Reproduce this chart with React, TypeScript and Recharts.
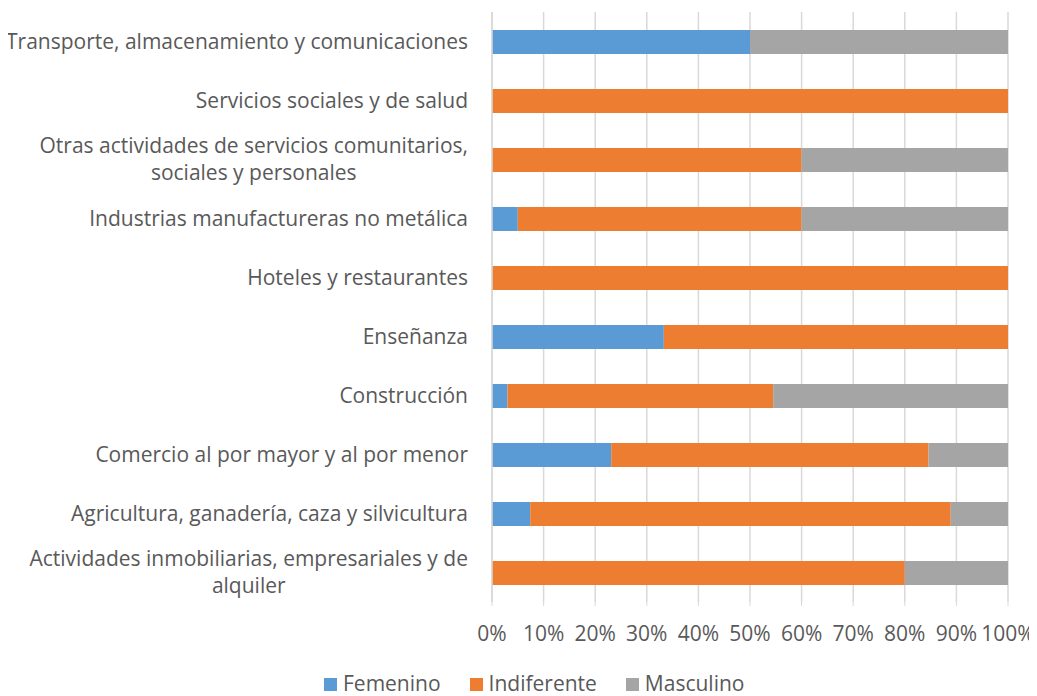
import React from 'react';
import { BarChart, Bar, XAxis, YAxis, CartesianGrid } from 'recharts';

const categories = [
  'Transporte, almacenamiento y comunicaciones',
  'Servicios sociales y de salud',
  'Otras actividades de servicios comunitarios, sociales y personales',
  'Industrias manufactureras no metálica',
  'Hoteles y restaurantes',
  'Enseñanza',
  'Construcción',
  'Comercio al por mayor y al por menor',
  'Agricultura, ganadería, caza y silvicultura',
  'Actividades inmobiliarias, empresariales y de alquiler',
];

const femenino = [50, 0, 0, 5, 0, 33.3, 3, 23.1, 7.4, 0];
const indiferente = [0, 100, 60, 55, 100, 66.7, 51.5, 61.5, 81.5, 80];
const masculino = [50, 0, 40, 40, 0, 0, 45.5, 15.4, 11.1, 20];

const xTicks = [0, 10, 20, 30, 40, 50, 60, 70, 80, 90, 100];

const FONT = '"Open Sans", sans-serif';
const FONT_SIZE = 21;
const TEXT = '#595959';

const data = categories.map((name, i) => ({
  name,
  Femenino: femenino[i],
  Indiferente: indiferente[i],
  Masculino: masculino[i],
}));

let ctx: CanvasRenderingContext2D | null = null;
const measure = (s: string) => {
  if (!ctx) ctx = document.createElement('canvas').getContext('2d');
  if (!ctx) return s.length * 10;
  ctx.font = `${FONT_SIZE}px ${FONT}`;
  return ctx.measureText(s).width;
};

// word wrap long category names, like Excel does
const wrap = (text: string, max: number) => {
  const words = text.split(' ');
  const lines: string[] = [];
  let cur = '';
  words.forEach((w) => {
    const next = cur ? cur + ' ' + w : w;
    if (measure(next) > max && cur) {
      lines.push(cur);
      cur = w;
    } else {
      cur = next;
    }
  });
  if (cur) lines.push(cur);
  return lines;
};

const CategoryTick = (props: any) => {
  const { x, y, payload } = props;
  const lines = wrap(payload.value, 470);
  const widest = Math.max(...lines.map(measure));
  const cx = x - 16 - widest / 2;
  const lh = 27;
  const startY = y - ((lines.length - 1) * lh) / 2;
  return (
    <g>
      {lines.map((l, i) => (
        <text
          key={i}
          x={lines.length > 1 ? cx : x - 16}
          y={startY + i * lh}
          dy={7}
          textAnchor={lines.length > 1 ? 'middle' : 'end'}
          fill={TEXT}
          fontSize={FONT_SIZE}
          fontFamily={FONT}
        >
          {l}
        </text>
      ))}
    </g>
  );
};

const legendItems = [
  { name: 'Femenino', color: '#5B9BD5' },
  { name: 'Indiferente', color: '#ED7D31' },
  { name: 'Masculino', color: '#A5A5A5' },
];

export default function App() {
  return (
    <div style={{ width: 1037, height: 688, marginLeft: -8, position: 'relative', fontFamily: FONT }}>
      <BarChart
        width={1037}
        height={640}
        data={data}
        layout="vertical"
        margin={{ top: 4, right: 29, bottom: 0, left: 8 }}
        barSize={24}
      >
        <CartesianGrid horizontal={false} stroke="#D9D9D9" strokeWidth={1.5} />
        <XAxis
          type="number"
          domain={[0, 100]}
          ticks={xTicks}
          tickFormatter={(v) => `${v}%`}
          axisLine={false}
          tickLine={{ stroke: '#D9D9D9' }}
          tickSize={4}
          tick={{ fill: TEXT, fontSize: FONT_SIZE, fontFamily: FONT, dy: 18 }}
          height={46}
          interval={0}
        />
        <YAxis
          type="category"
          dataKey="name"
          width={484}
          axisLine={{ stroke: '#D9D9D9', strokeWidth: 1.5 }}
          tickLine={false}
          tick={<CategoryTick />}
          interval={0}
        />
        <Bar dataKey="Femenino" stackId="a" fill="#5B9BD5" isAnimationActive={false} />
        <Bar dataKey="Indiferente" stackId="a" fill="#ED7D31" isAnimationActive={false} />
        <Bar dataKey="Masculino" stackId="a" fill="#A5A5A5" isAnimationActive={false} />
      </BarChart>
      <div
        style={{
          position: 'absolute',
          top: 665,
          left: 324,
          display: 'flex',
          gap: 29,
          color: TEXT,
          fontSize: FONT_SIZE,
          lineHeight: '20px',
        }}
      >
        {legendItems.map((it) => (
          <div key={it.name} style={{ display: 'flex', alignItems: 'center', gap: 6 }}>
            <span style={{ width: 13, height: 13, background: it.color, display: 'inline-block', marginTop: 3 }} />
            <span>{it.name}</span>
          </div>
        ))}
      </div>
    </div>
  );
}
